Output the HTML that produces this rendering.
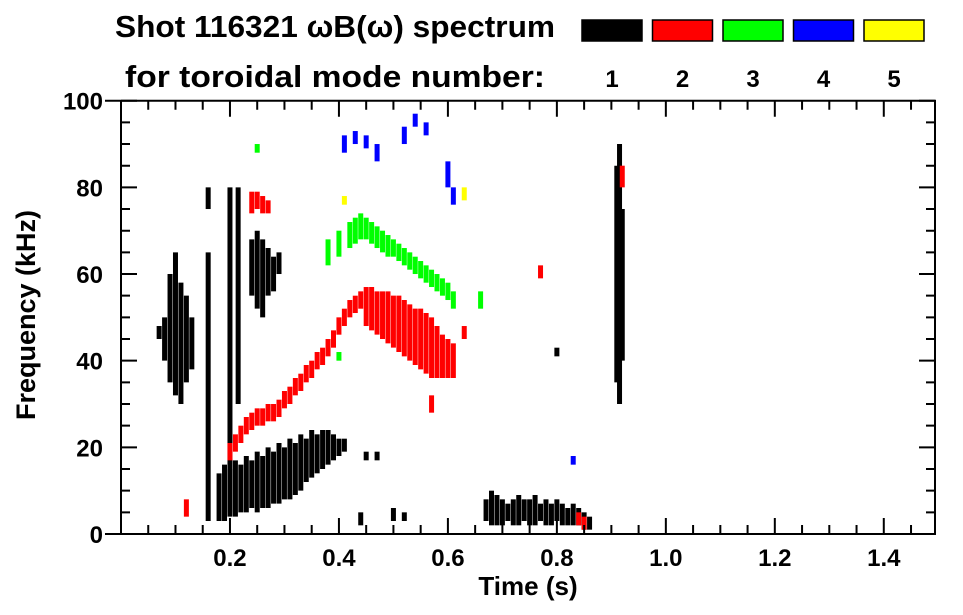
<!DOCTYPE html>
<html><head><meta charset="utf-8"><style>
body{margin:0;background:#fff;}
svg{display:block;font-family:"Liberation Sans",sans-serif;font-weight:bold;}
</style></head><body>
<svg id="c" width="963" height="615">
<text x="115" y="37" font-size="31" textLength="440" lengthAdjust="spacingAndGlyphs">Shot 116321 ωB(ω) spectrum</text>
<text x="125" y="87" font-size="31" textLength="420" lengthAdjust="spacingAndGlyphs">for toroidal mode number:</text>
<g id="legend"></g><g id="marks"></g><g id="axes" stroke="#000" stroke-width="2" fill="none"></g><g id="labels"></g>
</svg>
<script>
const modeColors=["#000","#f00","#0f0","#00f","#ff0"];
const modeLabels=["1","2","3","4","5"];
const xTicks=[0.2,0.4,0.6,0.8,1.0,1.2,1.4];
const yTicks=[0,20,40,60,80,100];
// strokes: [time, fLow, fHigh]
const mode1=[[0.08,40,50],[0.09,35,60],[0.10,32,65],[0.11,30,58],[0.12,35,55],[0.13,38,50],[0.07,45,48],
[0.16,3,65],[0.2,5,80],[0.215,30,80],
[0.18,3,14],[0.19,3,16],[0.20,4,15],[0.21,4,17],[0.22,5,16],[0.23,5,18],[0.24,6,17],[0.25,5,19],[0.26,6,18],[0.27,6,20],[0.28,7,19],[0.29,7,21],[0.30,8,20],[0.31,8,22],[0.32,9,21],[0.33,10,23],[0.34,12,22],[0.35,13,24],[0.36,14,23],[0.37,15,24],[0.38,16,24],[0.39,17,23],[0.40,18,22],[0.41,19,22],
[0.24,55,68],[0.25,52,70],[0.26,50,68],[0.27,55,66],[0.28,56,64],[0.29,60,65],
[0.67,3,8],[0.68,2,10],[0.69,2,9],[0.70,2,8],[0.71,3,7],[0.72,2,8],[0.73,2,9],[0.74,3,8],[0.75,2,8],[0.76,2,9],[0.77,3,7],[0.78,2,8],[0.79,2,7],[0.80,3,8],[0.81,2,7],[0.82,2,6],[0.83,2,7],[0.84,2,6],[0.85,1,5],[0.86,1,4],
[0.91,35,85],[0.915,30,90],[0.92,40,75],
[0.45,17,19],[0.47,17,19],[0.50,3,6],[0.52,3,5],[0.44,2,5],[0.80,41,43],[0.16,75,80]];
const mode2=[[0.20,17,21],[0.21,19,23],[0.22,21,25],[0.23,23,27],[0.24,24,28],[0.25,25,29],[0.26,25,29],[0.27,26,30],[0.28,26,30],[0.29,27,31],[0.30,29,33],[0.31,30,34],[0.32,32,36],[0.33,33,37],[0.34,35,39],[0.35,36,40],[0.36,38,42],[0.37,39,43],[0.38,41,45],[0.39,43,47],[0.40,46,50],[0.41,48,52],[0.42,50,54],[0.43,51,55],[0.44,52,56],
[0.45,48,57],[0.46,47,57],[0.47,46,56],[0.48,45,56],[0.49,44,56],[0.50,43,55],[0.51,42,55],[0.52,41,54],[0.53,40,53],[0.54,39,52],[0.55,38,52],[0.56,37,51],[0.57,36,50],[0.58,36,48],[0.59,36,46],[0.60,36,45],[0.61,36,44],[0.63,45,48],
[0.24,74,79],[0.25,75,79],[0.26,74,78],[0.27,74,77],[0.12,4,8],[0.84,2,5],[0.85,1,4],[0.57,28,32],[0.77,59,62],[0.92,80,85]];
const mode3=[[0.38,62,68],[0.40,64,70],[0.42,66,72],[0.43,67,73],[0.44,68,74],[0.45,68,73],[0.46,67,72],[0.47,66,71],[0.48,65,70],[0.49,64,69],[0.50,64,68],[0.51,63,67],[0.52,62,66],[0.53,61,65],[0.54,60,64],[0.55,59,63],[0.56,58,62],[0.57,57,61],[0.58,56,60],[0.59,55,59],[0.60,54,58],[0.61,52,56],[0.66,52,56],[0.25,88,90],[0.40,40,42]];
const mode4=[[0.41,88,92],[0.43,90,93],[0.45,89,92],[0.47,86,90],[0.52,90,94],[0.54,94,97],[0.56,92,95],[0.60,80,86],[0.61,76,80],[0.83,16,18]];
const mode5=[[0.63,77,80],[0.41,76,78]];
const series=[mode1,mode2,mode3,mode4,mode5];
const X0=121,X1=935,Y0=534,Y1=100.7,XMAX=1.494;
const xs=t=>X0+t/XMAX*(X1-X0), ys=f=>Y0-f/100*(Y0-Y1);
const NS="http://www.w3.org/2000/svg";
function mk(tag,attrs,parent){const e=document.createElementNS(NS,tag);for(const k in attrs)e.setAttribute(k,attrs[k]);parent.appendChild(e);return e;}
const lg=document.getElementById('legend');
modeColors.forEach((c,i)=>{const bx=582+i*70.5;
const r=mk('rect',{x:bx,y:20,width:60,height:21,fill:c,stroke:'#000','stroke-width':1.5},lg);


const t=mk('text',{x:bx+30,y:87,'font-size':24,'text-anchor':'middle'},lg);t.textContent=modeLabels[i];

});
const mg=document.getElementById('marks');
series.forEach((s,i)=>{s.forEach(d=>{const l=mk('line',{x1:xs(d[0]),x2:xs(d[0]),y1:ys(d[1]),y2:ys(d[2]),stroke:modeColors[i],'stroke-width':5},mg);

});});
const ax=document.getElementById('axes');
const frame=mk('path',{d:`M105 ${Y1}H${X1}V${Y0}H105M${X0} ${Y1}V${Y0}`},ax);


let p='';
for(let t=0.05;t<XMAX;t+=0.05){const x=xs(t),big=Math.abs(t/0.2-Math.round(t/0.2))<0.01,L=big?16:9;p+=`M${x} ${Y0}v${-L}M${x} ${Y1}v${L}`;}
for(let f=0;f<=100;f+=5){const y=ys(f),L=f%20==0?16:9;p+=`M${X0} ${y}h${L}M${X1} ${y}h${-L}`;}
const tk=mk('path',{d:p},ax);
const lb=document.getElementById('labels');
xTicks.forEach(t=>{const e=mk('text',{x:xs(t),y:566,'font-size':24,'text-anchor':'middle'},lb);e.textContent=t.toFixed(1);

});
yTicks.forEach(f=>{const e=mk('text',{x:103,y:ys(f)+9,'font-size':24,'text-anchor':'end'},lb);e.textContent=f;

});
const xt=mk('text',{x:528,y:595,'font-size':26,'text-anchor':'middle'},lb);xt.textContent='Time (s)';

const yt=mk('text',{x:0,y:0,'font-size':27,'text-anchor':'middle',transform:'translate(35,315) rotate(-90)'},lb);yt.textContent='Frequency (kHz)';

</script>
</body></html>
